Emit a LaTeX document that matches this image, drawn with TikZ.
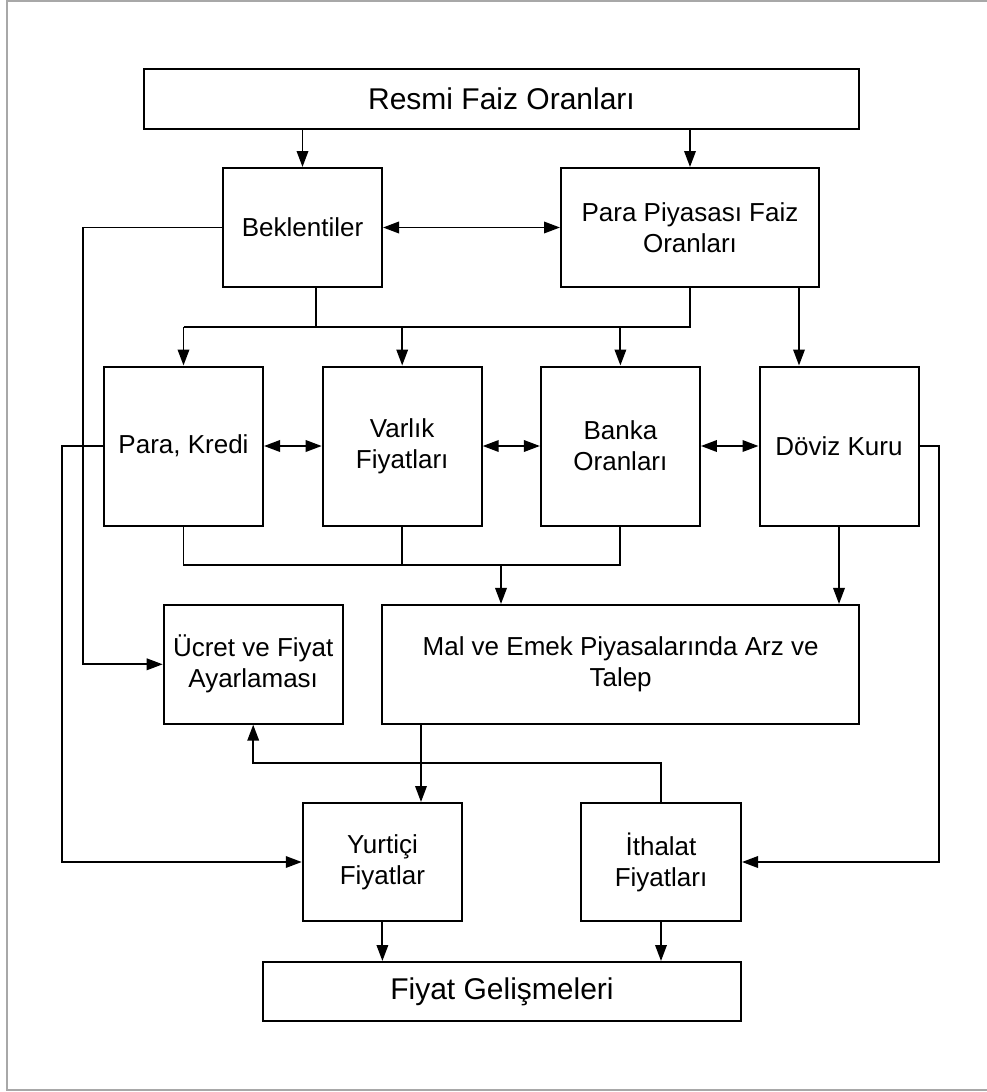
\documentclass[tikz,border=0pt]{standalone}
\usepackage{fontspec}
\setmainfont{Liberation Sans}
\usetikzlibrary{arrows.meta}
\definecolor{framegray}{HTML}{A8A8A8}
\begin{document}
\begin{tikzpicture}[x=1pt,y=-1pt,
  box/.style={draw=black, line width=2pt, fill=white, inner sep=0pt,
    align=center, font=\fontsize{26}{31}\selectfont},
  bigbox/.style={box, font=\fontsize{30}{36}\selectfont},
  link/.style={draw=black, line width=1.9pt},
  arr/.style={link, -{Triangle[length=16pt,width=11.5pt]}},
  darr/.style={link, {Triangle[length=16pt,width=11.5pt]}-{Triangle[length=16pt,width=11.5pt]}}]
\useasboundingbox (0,0) rectangle (987,1092);
% outer frame
\draw[framegray, line width=2pt] (995,1) -- (7,1) -- (7,1090) -- (995,1090);

% boxes
\node[bigbox, minimum width=715pt, minimum height=60pt] (resmi) at (501.5,99) {Resmi Faiz Oranları};
\node[box, minimum width=159pt, minimum height=119pt] (bek) at (302.5,227.5) {Beklentiler};
\node[box, minimum width=258pt, minimum height=119pt] (ppf) at (690,227.5) {Para Piyasası Faiz\\Oranları};
\node[box, minimum width=159pt, minimum height=159pt] (pk) at (183.5,446) {Para, Kredi};
\node[box, minimum width=159pt, minimum height=159pt] (var) at (402.2,446) {Varlık\\Fiyatları};
\node[box, minimum width=159pt, minimum height=159pt] (banka) at (620.4,446) {Banka\\Oranları};
\node[box, minimum width=159pt, minimum height=159pt] (doviz) at (839,446) {Döviz Kuru};
\node[box, minimum width=179pt, minimum height=118.7pt] (ucret) at (253.2,664.3) {Ücret ve Fiyat\\Ayarlaması};
\node[box, minimum width=476.7pt, minimum height=118.7pt] (mal) at (620.6,664.3) {Mal ve Emek Piyasalarında Arz ve\\Talep};
\node[box, minimum width=159.3pt, minimum height=118pt] (yurt) at (382.4,862) {Yurtiçi\\Fiyatlar};
\node[box, minimum width=160pt, minimum height=118pt] (ithalat) at (661,862) {İthalat\\Fiyatları};
\node[bigbox, minimum width=478pt, minimum height=59pt] (fiyat) at (502,991.5) {Fiyat Gelişmeleri};

% bus lines and junctions
\coordinate (bus1) at (0,326.7);
\coordinate (bus2) at (501,565.3);
\coordinate (ret) at (0,763.3);

% from the official rates
\draw[arr] (resmi.south -| bek.north) -- (bek.north);
\draw[arr] (resmi.south -| ppf.north) -- (ppf.north);
\draw[darr] (bek.east) -- (ppf.west);

% expectations to wage and price setting
\draw[arr] (bek.west) -- ++(-139,0) |- (ucret.west);

% upper bus to the middle row
\draw[link] ([xshift=13.2pt]bek.south) -- ([xshift=13.2pt]bek.south |- bus1);
\draw[link] (ppf.south) -- (ppf.south |- bus1) -- (pk.north |- bus1);
\draw[arr] (pk.north |- bus1) -- (pk.north);
\draw[arr] (var.north |- bus1) -- (var.north);
\draw[arr] (banka.north |- bus1) -- (banka.north);
\draw[arr] ([xshift=109pt]ppf.south) -- ([xshift=109pt]ppf.south |- doviz.north);

% links inside the middle row
\draw[darr] (pk.east) -- (var.west);
\draw[darr] (var.east) -- (banka.west);
\draw[darr] (banka.east) -- (doviz.west);

% side lines
\draw[arr] (pk.west) -- ++(-40.7,0) |- (yurt.west);
\draw[arr] (doviz.east) -- ++(19.7,0) |- (ithalat.east);

% lower bus to supply and demand
\draw[link] (pk.south) -- (pk.south |- bus2) -- (banka.south |- bus2) -- (banka.south);
\draw[link] (var.south) -- (var.south |- bus2);
\draw[arr] (bus2) -- (bus2 |- mal.north);
\draw[arr] (doviz.south) -- (doviz.south |- mal.north);

% to domestic prices, and import prices back to wage setting
\draw[arr] ([xshift=-199.6pt]mal.south) -- ([xshift=-199.6pt]mal.south |- yurt.north);
\draw[arr] (ithalat.north) -- (ithalat.north |- ret) -- (ucret.south |- ret) -- (ucret.south);

% to price developments
\draw[arr] (yurt.south) -- (yurt.south |- fiyat.north);
\draw[arr] (ithalat.south) -- (ithalat.south |- fiyat.north);
\end{tikzpicture}
\end{document}
